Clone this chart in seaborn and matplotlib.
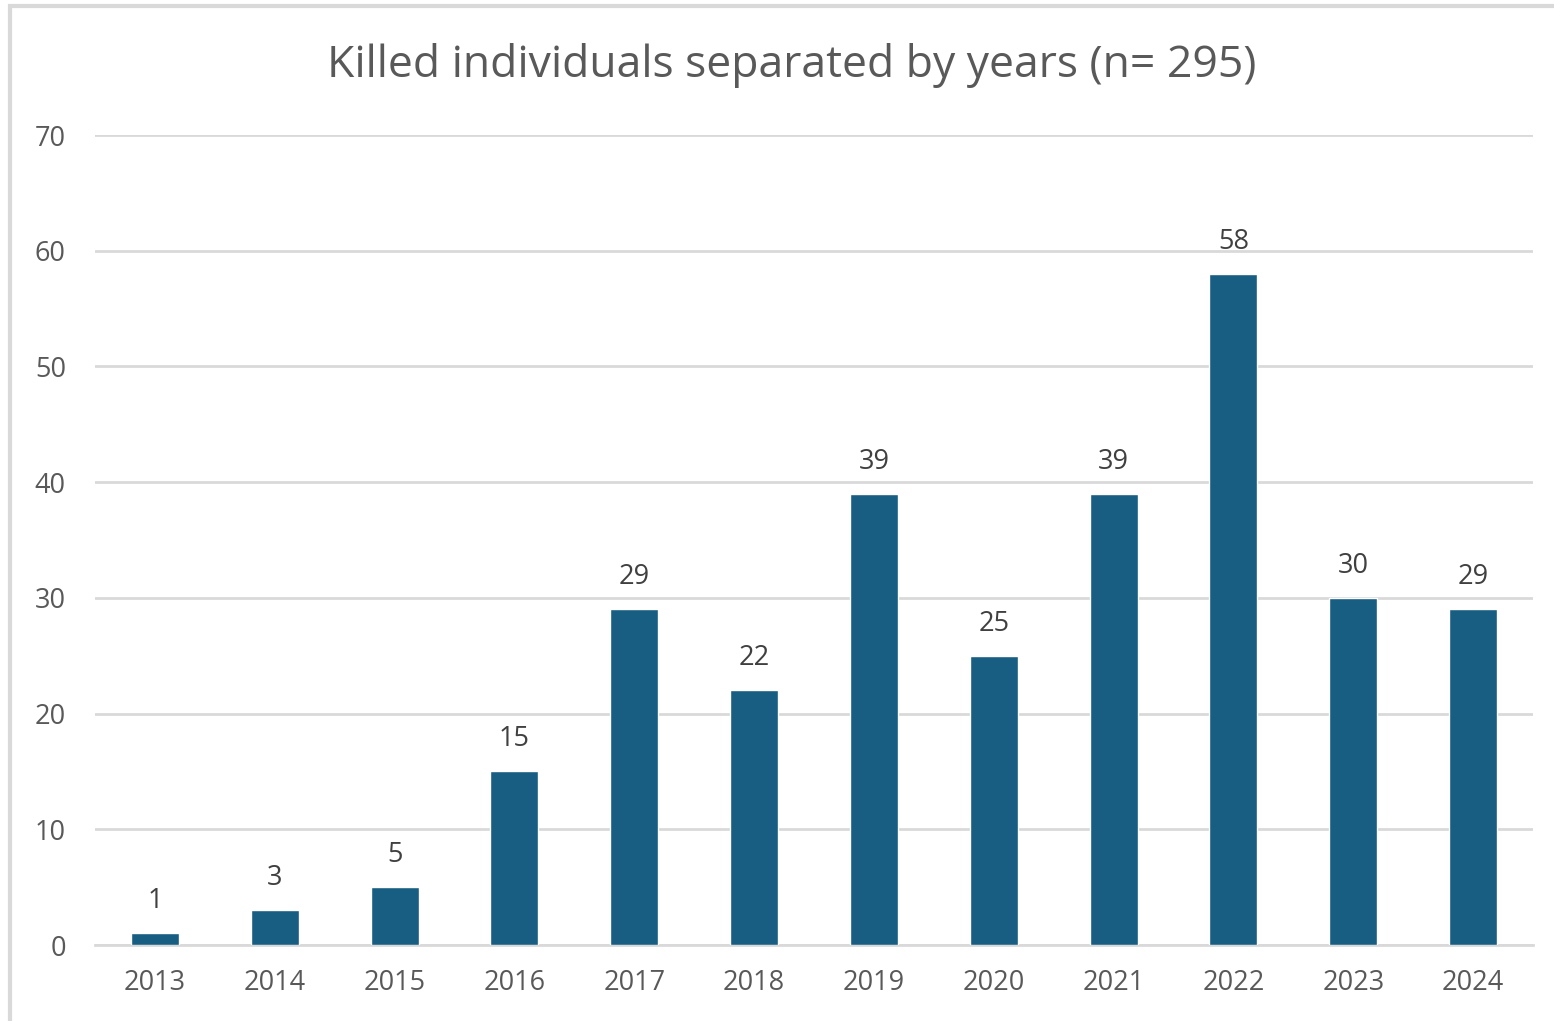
import matplotlib
matplotlib.use("Agg")
import matplotlib.pyplot as plt
import seaborn as sns
import pandas as pd
from matplotlib.patches import Rectangle

years = ["2013", "2014", "2015", "2016", "2017", "2018", "2019", "2020", "2021", "2022", "2023", "2024"]
killed = [1, 3, 5, 15, 29, 22, 39, 25, 39, 58, 30, 29]
yticks = [0, 10, 20, 30, 40, 50, 60, 70]
title = "Killed individuals separated by years (n= 295)"

sns.set_theme(style="white")
plt.rcParams['font.family'] = ['Open Sans', 'DejaVu Sans']

df = pd.DataFrame({"year": years, "killed": killed})
text_color = "#595959"
bar_color = "#175E82"

fig = plt.figure(figsize=(15.54, 10.21), dpi=100)
ax = fig.add_axes([95/1554, 1-945/1021, (1533-95)/1554, (945-135)/1021])

sns.barplot(data=df, x="year", y="killed", color=bar_color, width=0.4, ax=ax,
            saturation=1, zorder=3)

ax.set_ylim(0, 70)
ax.set_yticks(yticks)
ax.set_xlim(-0.5, len(years) - 0.5)
ax.grid(axis="y", color="#d9d9d9", linewidth=2, zorder=0)
ax.set_axisbelow(True)
for s in ["top", "right", "left"]:
    ax.spines[s].set_visible(False)
ax.spines["bottom"].set_color("#d9d9d9")
ax.spines["bottom"].set_linewidth(2)
ax.set_xlabel("")
ax.set_ylabel("")
ax.tick_params(axis="both", length=0, labelsize=19.5, colors=text_color)
ax.tick_params(axis="x", pad=17)
ax.tick_params(axis="y", pad=21)

for c in ax.containers:
    ax.bar_label(c, labels=[str(v) for v in killed], padding=13, fontsize=19.5, color="#404040")

fig.text(792/1554, 1-66/1021, title, ha="center", va="center", fontsize=32, color=text_color)

fig.patches.append(Rectangle((10/1554, -0.05), 1.1, 1 - 6/1021 + 0.05, transform=fig.transFigure,
                             fill=False, edgecolor="#d9d9d9", linewidth=3, zorder=0))

fig.savefig("out.png", dpi=100)
